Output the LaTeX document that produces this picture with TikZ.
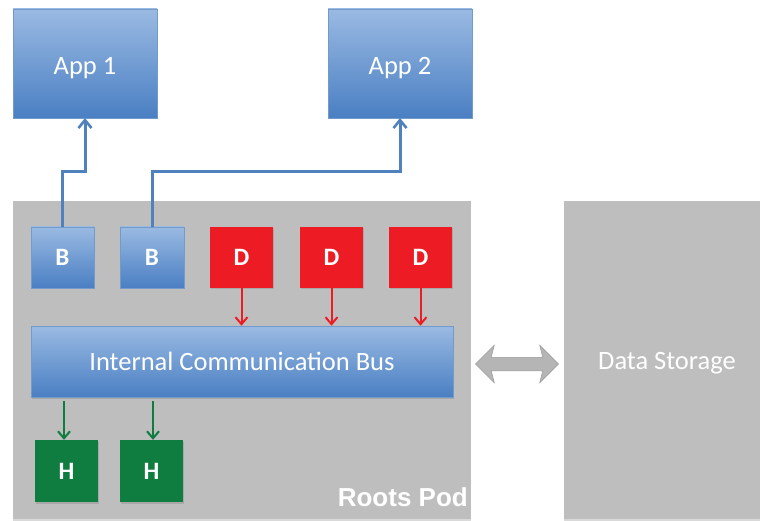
\documentclass[tikz,border=0pt]{standalone}
\usepackage{fontspec}
\setmainfont{Carlito}
\newfontfamily\arialfont{Liberation Sans}
\usetikzlibrary{shapes.arrows,shadows,arrows.meta}
\definecolor{podgray}{HTML}{BFBEBE}
\definecolor{bluetop}{HTML}{9ABAE2}
\definecolor{bluebot}{HTML}{4A7FC3}
\definecolor{blueline}{HTML}{4F81BD}
\definecolor{dred}{HTML}{ED1C24}
\definecolor{hgreen}{HTML}{0F7D3F}
\definecolor{arrgray}{HTML}{B5B5B5}
\tikzset{
  x=1pt,y=-1pt,
  bluebox/.style={draw=blueline!80!white,line width=0.6pt,top color=bluetop,bottom color=bluebot,
     text=white,drop shadow={opacity=0.35,shadow xshift=1pt,shadow yshift=-1.5pt}},
  redbox/.style={fill=dred,text=white,drop shadow={opacity=0.35,shadow xshift=1pt,shadow yshift=-1.5pt}},
  greenbox/.style={fill=hgreen,text=white,drop shadow={opacity=0.35,shadow xshift=1pt,shadow yshift=-1.5pt}},
  graybox/.style={fill=podgray,drop shadow={opacity=0.3,shadow xshift=0pt,shadow yshift=-1.5pt}},
  bconn/.style={draw=blueline,line width=3pt,-{Straight Barb[length=8pt,width=13pt,line width=2.6pt]}},
  rconn/.style={draw=dred,line width=2pt,-{Straight Barb[length=7pt,width=12pt,line width=2pt]}},
  gconn/.style={draw=hgreen,line width=2pt,-{Straight Barb[length=7pt,width=12pt,line width=2pt]}},
  letter/.style={font=\fontsize{25}{25}\selectfont\bfseries},
  big/.style={font=\fontsize{26.5}{26.5}\selectfont},
}
\begin{document}
\begin{tikzpicture}
\useasboundingbox (0,0) rectangle (760,521);
% gray containers
\path[graybox] (13,201) rectangle (471,519);
\path[graybox] (564,201) rectangle (775,519);
\node[text=white,big] (ds) at (667,363) {Data Storage};
\node[anchor=south east,text=white,font=\arialfont\fontsize{26}{26}\selectfont\bfseries,inner sep=0] (podlabel) at (468,507) {Roots Pod};
% apps
\path[bluebox] (13,9) rectangle (157,118);
\node[text=white,big] (app1) at (85,68) {App 1};
\coordinate (app1b) at (85,118);
\path[bluebox] (328,9) rectangle (472,118);
\node[text=white,big] (app2) at (400,68) {App 2};
\coordinate (app2b) at (400,118);
% B boxes
\node[bluebox,letter,minimum width=63pt,minimum height=61pt,inner sep=0] (b1) at (62.5,257.5) {B};
\node[bluebox,letter,minimum width=64pt,minimum height=61pt,inner sep=0] (b2) at (152,257.5) {B};
% D boxes
\node[redbox,letter,minimum width=63pt,minimum height=61pt,inner sep=0] (d1) at (241.5,257.5) {D};
\node[redbox,letter,minimum width=63pt,minimum height=61pt,inner sep=0] (d2) at (331.5,257.5) {D};
\node[redbox,letter,minimum width=63pt,minimum height=61pt,inner sep=0] (d3) at (420.5,257.5) {D};
% bus
\node[bluebox,big,minimum width=422pt,minimum height=71pt,inner sep=0] (bus) at (242,361.5) {Internal Communication Bus};
% H boxes
\node[greenbox,letter,minimum width=63pt,minimum height=62pt,inner sep=0] (h1) at (66.5,471) {H};
\node[greenbox,letter,minimum width=63pt,minimum height=62pt,inner sep=0] (h2) at (151.5,471) {H};
% connectors
\draw[bconn] (b1.north) -- (62.5,172) -| (app1b);
\draw[bconn] (b2.north) -- (152,172) -| (app2b);
\draw[rconn] (d1.south) -- (d1.south |- bus.north);
\draw[rconn] (d2.south) -- (d2.south |- bus.north);
\draw[rconn] (d3.south) -- (d3.south |- bus.north);
\coordinate (g1) at (64,401);
\coordinate (g2) at (153,401);
\draw[gconn] (g1) -- (g1 |- h1.north);
\draw[gconn] (g2) -- (g2 |- h2.north);
% double arrow
\node[double arrow,fill=arrgray,draw=gray!80,line width=0.5pt,minimum width=37pt,minimum height=83pt,double arrow head extend=12pt,double arrow head indent=3pt,inner sep=6.5pt,shape border rotate=0] (da) at (517,364) {};
\end{tikzpicture}
\end{document}
